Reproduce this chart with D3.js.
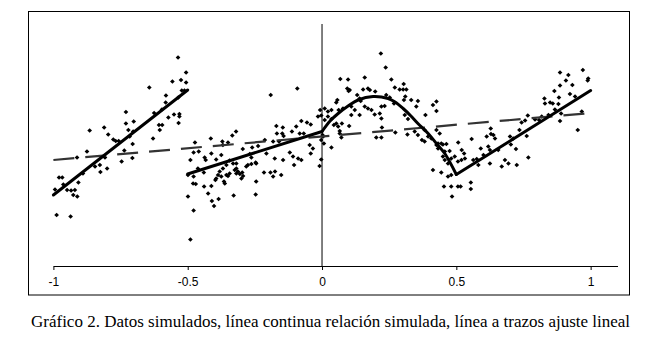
<!DOCTYPE html>
<html><head><meta charset="utf-8">
<script src="https://cdn.jsdelivr.net/npm/d3@7"></script>
<style>body{margin:0;background:#fff}svg{display:block}</style>
</head><body>
<svg id="c" width="661" height="350"></svg>
<script>
const xTicks = [-1, -0.5, 0, 0.5, 1];
const caption = "Gráfico 2. Datos simulados, línea continua relación simulada, línea a trazos ajuste lineal";

const seg1Points = [[-0.536,1.75],[-0.506,1.45],[-0.557,1.27],[-0.525,1.30],[-0.506,1.25],[-0.643,1.15],[-0.522,1.09],[-0.512,1.09],[-0.581,0.99],[-0.535,0.95],[-0.582,0.85],[-0.596,0.71],[-0.730,0.66],[-0.625,0.64],[-0.551,0.61],[-0.531,0.62],[-0.531,0.57],[-0.572,0.55],[-0.701,0.47],[-0.730,0.43],[-0.534,0.44],[-0.607,0.40],[-0.595,0.40],[-0.811,0.35],[-0.865,0.29],[-0.721,0.30],[-0.703,0.27],[-0.604,0.30],[-0.796,0.21],[-0.716,0.17],[-0.777,0.11],[-0.768,0.08],[-0.757,0.08],[-0.629,0.13],[-0.705,0.02],[-0.875,-0.13],[-0.912,-0.25],[-0.808,-0.25],[-0.736,-0.11],[-0.706,-0.26],[-0.746,-0.33],[-0.845,-0.43],[-0.827,-0.40],[-0.800,-0.47],[-0.825,-0.54],[-0.890,-0.57],[-0.979,-0.65],[-0.967,-0.65],[-0.963,-0.79],[-0.907,-0.75],[-0.994,-0.89],[-0.949,-0.90],[-0.934,-0.91],[-0.920,-0.90],[-0.926,-1.00],[-0.911,-1.03],[-0.988,-1.40],[-0.936,-1.43]];

const seg2Points = [[-0.191,1.00],[-0.092,1.13],[-0.003,0.59],[-0.015,0.57],[-0.007,0.70],[-0.056,0.45],[-0.042,0.41],[-0.077,0.48],[-0.170,0.38],[-0.146,0.35],[-0.096,0.37],[-0.112,0.27],[-0.083,0.23],[-0.068,0.23],[-0.148,0.23],[-0.143,0.18],[-0.168,0.23],[-0.320,0.27],[-0.334,0.19],[-0.414,0.13],[-0.473,0.05],[-0.371,0.07],[-0.350,0.05],[-0.369,0.00],[-0.295,-0.08],[-0.213,0.10],[-0.182,0.07],[-0.160,0.07],[-0.046,0.00],[-0.034,-0.07],[-0.042,-0.17],[-0.120,-0.15],[-0.108,-0.23],[-0.089,-0.27],[-0.077,-0.30],[-0.176,-0.27],[-0.145,-0.30],[-0.207,-0.17],[-0.245,-0.37],[-0.263,-0.25],[-0.269,-0.18],[-0.344,-0.31],[-0.331,-0.37],[-0.319,-0.37],[-0.356,-0.40],[-0.369,-0.47],[-0.319,-0.47],[-0.490,-0.30],[-0.437,-0.25],[-0.433,-0.30],[-0.412,-0.17],[-0.459,-0.13],[-0.478,-0.15],[-0.375,-0.20],[-0.394,-0.29],[-0.462,-0.47],[-0.009,-0.42],[-0.003,-0.29],[-0.499,-0.60],[-0.478,-0.63],[-0.480,-0.77],[-0.470,-0.78],[-0.499,-1.03],[-0.478,-1.31],[-0.490,-1.89],[-0.440,-0.55],[-0.439,-0.83],[-0.424,-0.97],[-0.412,-0.82],[-0.410,-1.12],[-0.402,-1.22],[-0.385,-1.08],[-0.397,-0.70],[-0.387,-0.60],[-0.394,-0.67],[-0.381,-0.53],[-0.365,-0.73],[-0.362,-0.77],[-0.375,-0.63],[-0.356,-0.60],[-0.350,-0.62],[-0.344,-0.57],[-0.325,-0.50],[-0.319,-0.57],[-0.313,-0.53],[-0.306,-0.58],[-0.300,-0.67],[-0.297,-0.55],[-0.294,-0.62],[-0.329,-1.01],[-0.282,-0.43],[-0.276,-0.40],[-0.263,-0.38],[-0.247,-0.35],[-0.245,-0.73],[-0.247,-0.99],[-0.216,-0.55],[-0.192,-0.55],[-0.182,-0.63],[-0.175,-0.53],[-0.152,-0.60],[-0.104,-0.40],[-0.260,-0.05],[-0.238,-0.02],[-0.003,0.10]];

const seg3Points = [[0.219,1.83],[0.237,1.55],[0.068,1.32],[0.097,1.31],[0.159,1.35],[0.258,1.31],[0.304,1.22],[0.271,1.15],[0.289,1.11],[0.302,1.11],[0.314,1.11],[0.094,1.13],[0.103,1.10],[0.099,1.08],[0.153,1.11],[0.171,1.13],[0.178,1.10],[0.198,1.07],[0.131,1.00],[0.140,0.93],[0.144,0.88],[0.239,1.00],[0.252,0.95],[0.310,0.97],[0.305,0.90],[0.332,0.90],[0.357,0.88],[0.057,0.90],[0.053,0.85],[0.078,0.73],[0.062,0.70],[0.109,0.77],[0.122,0.70],[0.159,0.77],[0.171,0.73],[0.184,0.70],[0.221,0.77],[0.233,0.78],[0.268,0.83],[0.351,0.77],[0.413,0.80],[0.426,0.87],[0.426,0.68],[0.140,0.60],[0.109,0.60],[0.196,0.61],[0.215,0.63],[0.221,0.53],[0.308,0.60],[0.320,0.52],[0.385,0.60],[0.010,0.73],[0.022,0.67],[0.035,0.70],[0.010,0.50],[0.022,0.57],[0.035,0.52],[0.044,0.40],[0.053,0.43],[0.060,0.37],[0.074,0.43],[0.066,0.28],[0.101,0.38],[0.004,0.17],[0.002,0.20],[0.066,0.23],[0.072,0.15],[0.202,0.15],[0.221,0.15],[0.223,0.35],[0.318,0.21],[0.273,0.25],[0.345,0.27],[0.357,0.20],[0.382,0.30],[0.372,0.10],[0.395,0.17],[0.407,0.13],[0.382,0.07],[0.432,0.03],[0.444,0.03],[0.463,0.02],[0.426,0.30],[0.438,0.23],[0.007,0.03],[0.035,-0.05],[0.426,0.00],[0.432,-0.07],[0.450,0.01],[0.457,-0.13],[0.475,-0.12],[0.481,-0.27],[0.494,-0.23],[0.450,-0.23],[0.457,-0.30],[0.469,-0.37],[0.413,-0.50],[0.444,-0.55],[0.469,-0.63],[0.481,-0.60],[0.454,-0.83],[0.481,-0.83],[0.484,-1.03]];

const seg4Points = [[0.506,-0.33],[0.519,-0.30],[0.506,-0.83],[0.516,-0.83],[0.554,-0.75],[0.554,-0.88],[0.507,0.05],[0.520,-0.10],[0.529,-0.17],[0.532,-0.27],[0.557,0.12],[0.563,-0.30],[0.576,-0.28],[0.601,-0.20],[0.582,-0.40],[0.591,-0.07],[0.619,-0.03],[0.625,-0.10],[0.644,0.13],[0.613,0.17],[0.638,0.20],[0.700,0.17],[0.712,0.13],[0.656,-0.10],[0.625,-0.37],[0.669,-0.43],[0.681,-0.30],[0.694,-0.37],[0.725,-0.40],[0.722,-0.08],[0.703,0.01],[0.768,-0.25],[0.886,1.45],[0.917,1.40],[0.971,1.50],[0.991,1.33],[0.989,1.29],[0.908,1.29],[0.932,1.20],[0.886,1.19],[0.865,1.08],[0.923,1.02],[0.942,0.97],[0.828,0.93],[0.830,0.83],[0.849,0.85],[0.859,0.83],[0.882,0.95],[0.880,0.82],[0.867,0.71],[0.890,0.63],[0.886,0.48],[0.766,0.59],[0.743,0.45],[0.756,0.49],[0.793,0.51],[0.808,0.50],[0.967,0.67],[0.952,0.30],[0.735,0.30],[0.629,0.22],[0.762,0.18],[0.818,0.57],[0.843,0.60],[0.628,0.33]];

const relLeft = [[-1, -1.00], [-0.5, 1.10]];
const relMidLine = [[-0.5, -0.58], [0, 0.27]];
const relCurve = [[0, 0.27], [0.030, 0.48], [0.060, 0.63], [0.097, 0.78], [0.134, 0.90], [0.190, 0.97], [0.246, 0.93], [0.272, 0.86], [0.302, 0.73], [0.331, 0.58], [0.357, 0.43], [0.395, 0.23], [0.426, 0.03], [0.457, -0.17], [0.5, -0.59]];
const relRight = [[0.5, -0.59], [1, 1.09]];
const fitLine = [[-1, -0.30], [1, 0.64]];

const svg = d3.select("#c");
const x = d3.scaleLinear().domain([-1, 1.1]).range([53.4, 617.5]);
const y = d3.scaleLinear().domain([-2.42, 2.42]).range([266, 24]);

svg.append("rect").attr("x", 28.5).attr("y", 11.5).attr("width", 601).attr("height", 283.5)
  .attr("fill", "none").attr("stroke", "#000").attr("stroke-width", 1);

const xAxis = d3.axisBottom(x).tickValues(xTicks).tickSize(4).tickSizeOuter(0)
  .tickFormat(d => String(d));
const gx = svg.append("g").attr("transform", `translate(0,${y(-2.42)})`).call(xAxis);
gx.select(".domain").attr("stroke", "#000");
gx.selectAll(".tick line").attr("stroke", "#000");
gx.selectAll("text").attr("font-family", "Liberation Sans, Arial, sans-serif").attr("font-size", 12)
  .attr("fill", "#000").attr("dy", "1.12em");

svg.append("line").attr("x1", x(0)).attr("x2", x(0)).attr("y1", y(2.42)).attr("y2", y(-2.42))
  .attr("stroke", "#000").attr("stroke-width", 1);

const allPts = seg1Points.concat(seg2Points, seg3Points, seg4Points);
const sym = d3.symbol().type(d3.symbolSquare).size(11);
svg.append("g").selectAll("path").data(allPts).join("path")
  .attr("d", sym)
  .attr("transform", d => `translate(${x(d[0])},${y(d[1])}) rotate(45)`)
  .attr("fill", "#000");

const lin = d3.line().x(d => x(d[0])).y(d => y(d[1]));
const smooth = d3.line().x(d => x(d[0])).y(d => y(d[1])).curve(d3.curveCatmullRom);

svg.append("path").attr("d", lin(fitLine)).attr("fill", "none").attr("stroke", "#333")
  .attr("stroke-width", 2.2).attr("stroke-dasharray", "21,11");

[relLeft, relMidLine, relRight].forEach(seg => {
  svg.append("path").attr("d", lin(seg)).attr("fill", "none").attr("stroke", "#000")
    .attr("stroke-width", 3).attr("stroke-linecap", "round");
});
svg.append("path").attr("d", smooth(relCurve)).attr("fill", "none").attr("stroke", "#000")
  .attr("stroke-width", 3).attr("stroke-linecap", "round");

svg.append("text").attr("x", 31).attr("y", 327).attr("font-family", "Liberation Serif, 'Times New Roman', serif")
  .attr("font-size", 17).attr("fill", "#000").text(caption);
</script>
</body></html>
